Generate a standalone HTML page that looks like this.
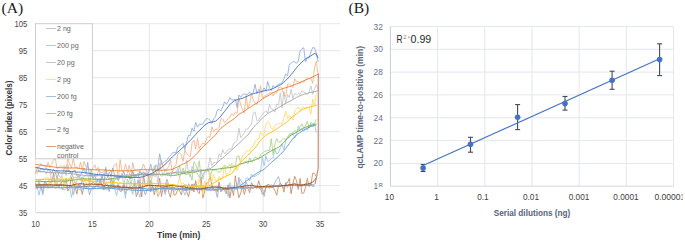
<!DOCTYPE html>
<html><head><meta charset="utf-8"><style>
html,body{margin:0;padding:0;background:#fff;width:685px;height:242px;overflow:hidden}
svg{display:block}
text{font-family:"Liberation Sans",sans-serif}
.lg{font-size:7.9px;fill:#666}
.tk{font-size:8.8px;fill:#474747}
.ttl{font-size:8.6px;font-weight:bold;fill:#3a3a3a}
.ttl2{font-size:8.8px;font-weight:bold;fill:#333}
.rtl2{font-size:8.5px;font-weight:bold;fill:#5a6680}
.rt{font-size:8.8px;fill:#66708a}
.rx{font-size:9px;fill:#404040}
.rtl{font-size:8.2px;font-weight:bold;fill:#56627c}
.r2{font-size:10.6px;fill:#262626}
.sup{font-size:6px;fill:#888}
.pl{font-family:"Liberation Serif",serif;font-size:15.6px;fill:#1a1a1a}
</style></head><body>
<svg width="685" height="242" viewBox="0 0 685 242">
<rect width="685" height="242" fill="#fff"/>
<line x1="35.5" y1="23.7" x2="340" y2="23.7" stroke="#e6e6e6" stroke-width="1"/>
<line x1="35.5" y1="50.7" x2="340" y2="50.7" stroke="#e6e6e6" stroke-width="1"/>
<line x1="35.5" y1="77.7" x2="340" y2="77.7" stroke="#e6e6e6" stroke-width="1"/>
<line x1="35.5" y1="104.7" x2="340" y2="104.7" stroke="#e6e6e6" stroke-width="1"/>
<line x1="35.5" y1="131.7" x2="340" y2="131.7" stroke="#e6e6e6" stroke-width="1"/>
<line x1="35.5" y1="158.7" x2="340" y2="158.7" stroke="#e6e6e6" stroke-width="1"/>
<line x1="35.5" y1="185.7" x2="340" y2="185.7" stroke="#e6e6e6" stroke-width="1"/>
<line x1="35.5" y1="212.7" x2="340" y2="212.7" stroke="#e6e6e6" stroke-width="1"/>
<line x1="35.5" y1="23.7" x2="35.5" y2="212.7" stroke="#e6e6e6" stroke-width="1"/>
<line x1="92.4" y1="23.7" x2="92.4" y2="212.7" stroke="#e6e6e6" stroke-width="1"/>
<line x1="149.3" y1="23.7" x2="149.3" y2="212.7" stroke="#e6e6e6" stroke-width="1"/>
<line x1="206.2" y1="23.7" x2="206.2" y2="212.7" stroke="#e6e6e6" stroke-width="1"/>
<line x1="263.1" y1="23.7" x2="263.1" y2="212.7" stroke="#e6e6e6" stroke-width="1"/>
<line x1="320" y1="23.7" x2="320" y2="212.7" stroke="#e6e6e6" stroke-width="1"/>
<line x1="35.5" y1="212.7" x2="340" y2="212.7" stroke="#d9d9d9" stroke-width="1"/>
<path d="M35.5 187.1 L37.3 185.3 L39.1 182.4 L40.9 189.5 L42.7 184.9 L44.5 186.8 L46.3 183.4 L48.1 188.4 L49.9 186.4 L51.7 186.4 L53.5 186.6 L55.3 188.2 L57.1 184.1 L58.9 188 L60.7 184.4 L62.5 185.4 L64.3 185.2 L66.1 185.5 L67.9 187.9 L69.7 186.4 L71.5 186.1 L73.3 194.7 L75.1 188.2 L76.9 186.9 L78.7 187 L80.5 185.2 L82.3 179.1 L84.1 186.6 L85.9 188.3 L87.7 185.1 L89.5 194.9 L91.3 188.1 L93.1 187.5 L94.9 187.3 L96.7 185.4 L98.5 186.2 L100.3 179.2 L102.1 189 L103.9 185.9 L105.7 189.2 L107.5 186.7 L109.3 191.6 L111.1 178.2 L112.9 185.1 L114.7 186 L116.5 187.2 L118.3 189.3 L120.1 187.3 L121.9 189.7 L123.7 186 L125.5 194.2 L127.3 187.1 L129.1 188.6 L130.9 188.2 L132.7 186.3 L134.5 185.1 L136.3 188 L138.1 179.8 L139.9 188.9 L141.7 188.9 L143.5 189.1 L145.3 194.8 L147.1 190.2 L148.9 188.2 L150.7 180.1 L152.5 186.7 L154.3 189.2 L156.1 187.5 L157.9 196.5 L159.7 193.3 L161.5 187.8 L163.3 188.2 L165.1 186.5 L166.9 179.3 L168.7 184.9 L170.5 189.1 L172.3 187.3 L174.1 187.8 L175.9 189.1 L177.7 189.5 L179.5 189.5 L181.3 187 L183.1 187.9 L184.9 191 L186.7 188.8 L188.5 183.7 L190.3 186.8 L192.1 190.9 L193.9 183.6 L195.7 186.3 L197.5 186.5 L199.3 187.9 L201.1 190.4 L202.9 188.3 L204.7 187.5 L206.5 188.9 L208.3 189.6 L210.1 189.5 L211.9 186.7 L213.7 190.3 L215.5 189.8 L217.3 197.4 L219.1 185.8 L220.9 190.9 L222.7 189.9 L224.5 188.6 L226.3 190.7 L228.1 188.5 L229.9 187.2 L231.7 187.2 L233.5 186.9 L235.3 189.4 L237.1 188.9 L238.9 177.3 L240.7 188.4 L242.5 186.1 L244.3 189.6 L246.1 182.3 L247.9 186.1 L249.7 189.1 L251.5 188.1 L253.3 188.7 L255.1 186.8 L256.9 187.7 L258.7 187.9 L260.5 189.3 L262.3 188 L264.1 196.4 L265.9 187.3 L267.7 186.4 L269.5 188.6 L271.3 184.6 L273.1 186.4 L274.9 182.6 L276.7 179.3 L278.5 176.5 L280.3 183.6 L282.1 186.5 L283.9 188.5 L285.7 182.8 L287.5 187.4 L289.3 184 L291.1 185.4 L292.9 185.6 L294.7 183.9 L296.5 185.7 L298.3 186.3 L300.1 183.8 L301.9 186.7 L303.7 184.5 L305.5 184 L307.3 183.8 L309.1 184.9 L310.9 183.8 L312.7 186.5 L314.5 186.5" fill="none" stroke="#9aa9cc" stroke-width="0.85" stroke-linejoin="miter"/>
<path d="M35.5 183.2 L37.3 188.9 L39.1 184.6 L40.9 184.2 L42.7 193.6 L44.5 181.4 L46.3 183.8 L48.1 184.5 L49.9 182.7 L51.7 182.6 L53.5 173.3 L55.3 185.1 L57.1 183.5 L58.9 185.2 L60.7 183.8 L62.5 180.7 L64.3 182.9 L66.1 178.4 L67.9 191.1 L69.7 187 L71.5 176.9 L73.3 184 L75.1 186.7 L76.9 194.1 L78.7 184.1 L80.5 186.2 L82.3 194.4 L84.1 184.9 L85.9 186.1 L87.7 187.8 L89.5 186 L91.3 183.5 L93.1 182.5 L94.9 183.8 L96.7 184 L98.5 183.7 L100.3 184.3 L102.1 183.6 L103.9 190.1 L105.7 183.2 L107.5 184 L109.3 188.4 L111.1 186.1 L112.9 186.4 L114.7 187.6 L116.5 187.9 L118.3 184.3 L120.1 191.4 L121.9 191 L123.7 183.1 L125.5 189.4 L127.3 190.2 L129.1 186.6 L130.9 188.3 L132.7 188.2 L134.5 183.3 L136.3 196.7 L138.1 191.2 L139.9 180.4 L141.7 196.8 L143.5 174.9 L145.3 186 L147.1 186.6 L148.9 175 L150.7 191.9 L152.5 184.8 L154.3 195 L156.1 185.8 L157.9 187.3 L159.7 178.2 L161.5 196.6 L163.3 186.5 L165.1 192.6 L166.9 183.3 L168.7 192.2 L170.5 197.4 L172.3 184.5 L174.1 195.2 L175.9 194.5 L177.7 189.4 L179.5 190.3 L181.3 194.9 L183.1 186.2 L184.9 184.5 L186.7 191.5 L188.5 196.8 L190.3 188.3 L192.1 184 L193.9 192 L195.7 180.6 L197.5 191.7 L199.3 193.6 L201.1 177.1 L202.9 197.9 L204.7 191.2 L206.5 183 L208.3 182.5 L210.1 176.1 L211.9 185 L213.7 189.9 L215.5 189.4 L217.3 191.7 L219.1 181.8 L220.9 191.8 L222.7 188.5 L224.5 189.9 L226.3 193.7 L228.1 184.7 L229.9 198 L231.7 188 L233.5 195.6 L235.3 175.9 L237.1 187.9 L238.9 197.8 L240.7 193.2 L242.5 186.5 L244.3 194.3 L246.1 187.9 L247.9 188.3 L249.7 192.8 L251.5 182.7 L253.3 185.7 L255.1 187.4 L256.9 188.3 L258.7 180.7 L260.5 187.3 L262.3 194.3 L264.1 192.4 L265.9 187.5 L267.7 184.4 L269.5 184.8 L271.3 187.5 L273.1 187.3 L274.9 190.5 L276.7 195.4 L278.5 185.4 L280.3 183.3 L282.1 185 L283.9 192.2 L285.7 182.9 L287.5 182.9 L289.3 178.4 L291.1 193.8 L292.9 183.8 L294.7 176.3 L296.5 180.7 L298.3 189.4 L300.1 178.4 L301.9 193.4 L303.7 193.1 L305.5 187.5 L307.3 178.4 L309.1 186.6 L310.9 185 L312.7 173.2 L314.5 173.3 L316.3 176.6" fill="none" stroke="#c88a62" stroke-width="0.85" stroke-linejoin="miter"/>
<path d="M35.5 188.4 L37.3 187.7 L39.1 195.1 L40.9 185.2 L42.7 194.9 L44.5 186.2 L46.3 187.3 L48.1 186.6 L49.9 187.4 L51.7 187.2 L53.5 186.7 L55.3 187.8 L57.1 187.2 L58.9 186.3 L60.7 188 L62.5 189.2 L64.3 189.7 L66.1 188.9 L67.9 187.7 L69.7 187.1 L71.5 197.4 L73.3 187.9 L75.1 188.9 L76.9 188.3 L78.7 189.2 L80.5 189.8 L82.3 189.6 L84.1 188.4 L85.9 188.6 L87.7 188.6 L89.5 189.4 L91.3 189.9 L93.1 189.8 L94.9 187.8 L96.7 183.9 L98.5 188.2 L100.3 187.9 L102.1 186.6 L103.9 188.2 L105.7 189.3 L107.5 189.9 L109.3 187.4 L111.1 188.1 L112.9 179.9 L114.7 188.4 L116.5 195.6 L118.3 188.2 L120.1 187.5 L121.9 188.2 L123.7 188.1 L125.5 198.4 L127.3 179.1 L129.1 182.6 L130.9 188 L132.7 194.5 L134.5 178.5 L136.3 188.7 L138.1 191 L139.9 197.4 L141.7 187.7 L143.5 187.3 L145.3 188.6 L147.1 189 L148.9 191 L150.7 190.1 L152.5 191.1 L154.3 190 L156.1 190.4 L157.9 189.1 L159.7 188.3 L161.5 186.8 L163.3 188.3 L165.1 194.5 L166.9 188.5 L168.7 188.9 L170.5 189.1 L172.3 190.3 L174.1 191.2 L175.9 190.1 L177.7 188.3 L179.5 189.4 L181.3 188.5 L183.1 190.3 L184.9 195.1 L186.7 190.7 L188.5 190.1 L190.3 188.9 L192.1 188 L193.9 188.5 L195.7 188.7 L197.5 188.1 L199.3 188.6 L201.1 187.2 L202.9 188.2 L204.7 187.9 L206.5 190.1 L208.3 189.7 L210.1 190.2 L211.9 189.8 L213.7 190.2 L215.5 188.6 L217.3 189.2 L219.1 188.7 L220.9 190.1 L222.7 189.8 L224.5 188.5 L226.3 188.5 L228.1 196.6 L229.9 182.5 L231.7 189.6 L233.5 188.3 L235.3 186.3 L237.1 186.3 L238.9 182.8 L240.7 179.4 L242.5 183.5 L244.3 187.6 L246.1 178.2 L247.9 177.9 L249.7 181 L251.5 174.2 L253.3 176.7 L255.1 176.3 L256.9 175 L258.7 174.6 L260.5 171.9 L262.3 157.2 L264.1 165.8 L265.9 155.7 L267.7 161.5 L269.5 160.5 L271.3 158.5 L273.1 157.7 L274.9 149.4 L276.7 154 L278.5 152.6 L280.3 147.9 L282.1 144.1 L283.9 149.7 L285.7 141 L287.5 137.1 L289.3 137.5 L291.1 133.8 L292.9 133.5 L294.7 138.2 L296.5 133.8 L298.3 125.9 L300.1 130.4 L301.9 128.7 L303.7 131.3 L305.5 129 L307.3 130.3 L309.1 126 L310.9 123.8 L312.7 126.9 L314.5 124 L316.3 132.6" fill="none" stroke="#9dc3e6" stroke-width="0.85" stroke-linejoin="miter"/>
<path d="M35.5 182.5 L37.3 186.7 L39.1 180.1 L40.9 181.1 L42.7 181.3 L44.5 181.7 L46.3 181.8 L48.1 181.3 L49.9 179.6 L51.7 179.6 L53.5 179.6 L55.3 180.3 L57.1 182.3 L58.9 181.4 L60.7 181.8 L62.5 189.9 L64.3 182.6 L66.1 182.5 L67.9 181 L69.7 179.5 L71.5 173.8 L73.3 177.6 L75.1 177.2 L76.9 177.3 L78.7 177.6 L80.5 177.1 L82.3 177.6 L84.1 179.3 L85.9 179.7 L87.7 180.8 L89.5 181.4 L91.3 169.4 L93.1 179.1 L94.9 178.8 L96.7 178.9 L98.5 179.2 L100.3 178.6 L102.1 178.6 L103.9 180.3 L105.7 177.2 L107.5 179.8 L109.3 178.5 L111.1 182.2 L112.9 187.4 L114.7 179.9 L116.5 179.1 L118.3 176.9 L120.1 177.3 L121.9 177.8 L123.7 175.9 L125.5 176.9 L127.3 175.5 L129.1 176.8 L130.9 184.5 L132.7 177.2 L134.5 175.4 L136.3 176 L138.1 173.5 L139.9 172.8 L141.7 173.1 L143.5 174.8 L145.3 175.6 L147.1 173.2 L148.9 180.7 L150.7 175.6 L152.5 175.1 L154.3 176 L156.1 176.1 L157.9 167.5 L159.7 175 L161.5 176.1 L163.3 175.3 L165.1 174.4 L166.9 174.5 L168.7 174.3 L170.5 172.6 L172.3 173.6 L174.1 172.5 L175.9 173.4 L177.7 173.7 L179.5 165.5 L181.3 173.5 L183.1 168.1 L184.9 174.1 L186.7 174.5 L188.5 173.6 L190.3 174.6 L192.1 180 L193.9 161.6 L195.7 164.4 L197.5 170.4 L199.3 160.8 L201.1 179.3 L202.9 174.6 L204.7 171.5 L206.5 169.1 L208.3 169.3 L210.1 178.3 L211.9 170.7 L213.7 170.3 L215.5 169.9 L217.3 171.7 L219.1 172.3 L220.9 171.1 L222.7 166.9 L224.5 164.8 L226.3 167.2 L228.1 166.7 L229.9 164.4 L231.7 167 L233.5 166.2 L235.3 165.5 L237.1 156.4 L238.9 155.7 L240.7 163.9 L242.5 163.2 L244.3 161.6 L246.1 161.2 L247.9 163.9 L249.7 158 L251.5 162.2 L253.3 160 L255.1 156.8 L256.9 157.7 L258.7 159.3 L260.5 154.7 L262.3 153.2 L264.1 151.6 L265.9 151.2 L267.7 150.1 L269.5 150.9 L271.3 138.7 L273.1 154.6 L274.9 144.3 L276.7 138.5 L278.5 142.3 L280.3 142.2 L282.1 139.7 L283.9 138.5 L285.7 139.7 L287.5 137.5 L289.3 134.1 L291.1 133.5 L292.9 133.1 L294.7 130.7 L296.5 131.4 L298.3 130.1 L300.1 126.7 L301.9 123.8 L303.7 128.2 L305.5 125.6 L307.3 121.3 L309.1 128.2 L310.9 122.3 L312.7 123.6 L314.5 123.3 L316.3 119.3" fill="none" stroke="#a9d18e" stroke-width="0.85" stroke-linejoin="miter"/>
<path d="M35.5 181.2 L37.3 180.3 L39.1 179.8 L40.9 179.9 L42.7 179 L44.5 178.4 L46.3 177.9 L48.1 177.6 L49.9 188.1 L51.7 179.3 L53.5 179.8 L55.3 188 L57.1 178.2 L58.9 179.1 L60.7 179.7 L62.5 175.8 L64.3 188.1 L66.1 179 L67.9 179.3 L69.7 179.2 L71.5 180.4 L73.3 185.8 L75.1 187.9 L76.9 180.9 L78.7 179.2 L80.5 180.6 L82.3 181.3 L84.1 181.7 L85.9 181.8 L87.7 187.9 L89.5 181.4 L91.3 181.3 L93.1 180.9 L94.9 182.4 L96.7 182.4 L98.5 181.7 L100.3 182.5 L102.1 190.2 L103.9 183.5 L105.7 183.4 L107.5 183.1 L109.3 182.7 L111.1 183.7 L112.9 182.1 L114.7 182.7 L116.5 182.4 L118.3 183.9 L120.1 182.8 L121.9 183.5 L123.7 183.9 L125.5 183.5 L127.3 184 L129.1 183.2 L130.9 185.2 L132.7 184.3 L134.5 189.5 L136.3 185 L138.1 184.2 L139.9 183.6 L141.7 183.8 L143.5 185 L145.3 185.4 L147.1 185.8 L148.9 180 L150.7 174.1 L152.5 185.2 L154.3 186.7 L156.1 184.6 L157.9 194.1 L159.7 183.8 L161.5 185.2 L163.3 185.9 L165.1 185.2 L166.9 185.2 L168.7 185 L170.5 186.7 L172.3 186.8 L174.1 186.9 L175.9 185.8 L177.7 184.4 L179.5 177.1 L181.3 184.3 L183.1 183.2 L184.9 184.8 L186.7 184.9 L188.5 186.1 L190.3 186.2 L192.1 186.6 L193.9 186.3 L195.7 185.7 L197.5 186.5 L199.3 178.7 L201.1 186.5 L202.9 194.5 L204.7 181.3 L206.5 186 L208.3 184.9 L210.1 172.3 L211.9 181.8 L213.7 174.6 L215.5 180.6 L217.3 181.5 L219.1 176.5 L220.9 180.3 L222.7 177.1 L224.5 165.1 L226.3 175.5 L228.1 173.6 L229.9 172.2 L231.7 163 L233.5 166 L235.3 166.2 L237.1 170.4 L238.9 164.4 L240.7 162.2 L242.5 156 L244.3 154.1 L246.1 151.1 L247.9 150.4 L249.7 151.1 L251.5 146.7 L253.3 146.1 L255.1 141.6 L256.9 139.3 L258.7 139 L260.5 132 L262.3 135.1 L264.1 134.7 L265.9 124 L267.7 121.8 L269.5 123.4 L271.3 128.7 L273.1 129.4 L274.9 125.3 L276.7 124.3 L278.5 123.5 L280.3 123.4 L282.1 123.7 L283.9 118.1 L285.7 111.2 L287.5 118.8 L289.3 115.7 L291.1 117 L292.9 120.2 L294.7 110.9 L296.5 109.1 L298.3 107 L300.1 109.6 L301.9 108.4 L303.7 106.9 L305.5 109 L307.3 107.6 L309.1 107.3 L310.9 114.3 L312.7 99 L314.5 105 L316.3 93.8" fill="none" stroke="#ffd966" stroke-width="0.85" stroke-linejoin="miter"/>
<path d="M35.5 172.8 L37.3 173.3 L39.1 171.3 L40.9 172.1 L42.7 171.5 L44.5 170.8 L46.3 174 L48.1 169 L49.9 171.6 L51.7 182.3 L53.5 177.6 L55.3 173.6 L57.1 170.5 L58.9 175.3 L60.7 177.9 L62.5 174.2 L64.3 166.9 L66.1 175.6 L67.9 164.4 L69.7 173.5 L71.5 171.6 L73.3 177.7 L75.1 183.7 L76.9 178.4 L78.7 174.1 L80.5 180.3 L82.3 176.9 L84.1 176.9 L85.9 175 L87.7 173.9 L89.5 184.5 L91.3 174.9 L93.1 177.8 L94.9 174.5 L96.7 176.6 L98.5 170.1 L100.3 176.2 L102.1 178.5 L103.9 172.7 L105.7 174 L107.5 173.2 L109.3 179.2 L111.1 174.3 L112.9 184.5 L114.7 175.3 L116.5 175.2 L118.3 177.3 L120.1 177.7 L121.9 173.4 L123.7 184.5 L125.5 177.5 L127.3 173.6 L129.1 165.3 L130.9 172.2 L132.7 170.3 L134.5 176.2 L136.3 176.9 L138.1 173.2 L139.9 183.6 L141.7 172.4 L143.5 174.3 L145.3 172.7 L147.1 173.5 L148.9 177.8 L150.7 183 L152.5 175.3 L154.3 165.7 L156.1 169.8 L157.9 182.5 L159.7 163.5 L161.5 171 L163.3 174.9 L165.1 169.2 L166.9 172.8 L168.7 172.6 L170.5 177.1 L172.3 171.7 L174.1 173.2 L175.9 171.9 L177.7 168.7 L179.5 177.8 L181.3 173.3 L183.1 172.2 L184.9 174.2 L186.7 160.3 L188.5 173.3 L190.3 177.1 L192.1 166.4 L193.9 172.2 L195.7 172.7 L197.5 173.5 L199.3 177.7 L201.1 169.6 L202.9 179.2 L204.7 171.7 L206.5 172.3 L208.3 167 L210.1 157.6 L211.9 165.6 L213.7 162.5 L215.5 162.4 L217.3 162.4 L219.1 153.7 L220.9 156.9 L222.7 149.5 L224.5 153.9 L226.3 152.5 L228.1 149.6 L229.9 148.8 L231.7 149 L233.5 143.7 L235.3 142.3 L237.1 140.6 L238.9 128.2 L240.7 137.7 L242.5 135.5 L244.3 132.7 L246.1 129.1 L247.9 129 L249.7 126 L251.5 124.2 L253.3 113 L255.1 111.9 L256.9 120.7 L258.7 120.3 L260.5 116.9 L262.3 115 L264.1 112.4 L265.9 110.6 L267.7 113 L269.5 104.5 L271.3 108.8 L273.1 109.3 L274.9 112.2 L276.7 103.8 L278.5 105.2 L280.3 92.8 L282.1 107.9 L283.9 91.2 L285.7 103.4 L287.5 94.7 L289.3 97.5 L291.1 89.5 L292.9 98.8 L294.7 93.3 L296.5 95 L298.3 93.2 L300.1 94.7 L301.9 90.6 L303.7 92.3 L305.5 93 L307.3 94.7 L309.1 92.7 L310.9 85.8 L312.7 94.2 L314.5 88.9 L316.3 84.5 L318.1 89.2" fill="none" stroke="#c4c4c4" stroke-width="0.85" stroke-linejoin="miter"/>
<path d="M35.5 173.9 L37.3 167.9 L39.1 167.6 L40.9 163.5 L42.7 165.2 L44.5 166.5 L46.3 167.4 L48.1 162.4 L49.9 167.5 L51.7 164.4 L53.5 159.5 L55.3 158.9 L57.1 168.5 L58.9 167.6 L60.7 165.6 L62.5 167 L64.3 165.5 L66.1 168.5 L67.9 158.1 L69.7 164.8 L71.5 167.7 L73.3 158.3 L75.1 167.5 L76.9 166.8 L78.7 169.1 L80.5 162.3 L82.3 170 L84.1 161.4 L85.9 166.4 L87.7 167.2 L89.5 169.7 L91.3 170.5 L93.1 167.5 L94.9 165 L96.7 170.1 L98.5 167.4 L100.3 172.8 L102.1 172.4 L103.9 171.4 L105.7 170.3 L107.5 171.5 L109.3 169.5 L111.1 172.6 L112.9 167.9 L114.7 164.7 L116.5 163.4 L118.3 179.9 L120.1 159.6 L121.9 171 L123.7 171.7 L125.5 164.1 L127.3 171.3 L129.1 172 L130.9 178.7 L132.7 162.6 L134.5 169.8 L136.3 170.3 L138.1 171.3 L139.9 170.6 L141.7 169.2 L143.5 164 L145.3 168.9 L147.1 172.4 L148.9 170.4 L150.7 168.6 L152.5 170.4 L154.3 175 L156.1 168.9 L157.9 169.3 L159.7 170.7 L161.5 160.2 L163.3 168.3 L165.1 169.7 L166.9 169.1 L168.7 166.5 L170.5 160.2 L172.3 172.3 L174.1 167.1 L175.9 165.5 L177.7 154.2 L179.5 152.5 L181.3 154.8 L183.1 161.3 L184.9 149.7 L186.7 153.5 L188.5 155.3 L190.3 156.5 L192.1 142.5 L193.9 139.9 L195.7 149.2 L197.5 138.5 L199.3 149 L201.1 145.2 L202.9 143 L204.7 144.3 L206.5 138.9 L208.3 136.7 L210.1 137.3 L211.9 126.8 L213.7 131.6 L215.5 129.4 L217.3 129.3 L219.1 127.4 L220.9 118.6 L222.7 118.8 L224.5 122.6 L226.3 121.3 L228.1 118.4 L229.9 117.1 L231.7 113.6 L233.5 115.4 L235.3 112.2 L237.1 113.4 L238.9 98.3 L240.7 104.8 L242.5 109.9 L244.3 113.2 L246.1 95.5 L247.9 108.2 L249.7 103.9 L251.5 93.5 L253.3 100.5 L255.1 103.3 L256.9 104.2 L258.7 99.1 L260.5 85.6 L262.3 97.9 L264.1 96.5 L265.9 95 L267.7 94.4 L269.5 92.9 L271.3 92.7 L273.1 95.8 L274.9 92.7 L276.7 93.2 L278.5 87.7 L280.3 87.2 L282.1 88.4 L283.9 95.8 L285.7 96.3 L287.5 84.4 L289.3 83.8 L291.1 85.4 L292.9 87.6 L294.7 78.6 L296.5 81.8 L298.3 81.4 L300.1 84 L301.9 81 L303.7 82.5 L305.5 79.5 L307.3 77.9 L309.1 78.6 L310.9 78.2 L312.7 83.3 L314.5 68 L316.3 61.2 L318.1 74" fill="none" stroke="#f4b183" stroke-width="0.85" stroke-linejoin="miter"/>
<path d="M35.5 167.9 L37.3 166.9 L39.1 172 L40.9 168.6 L42.7 169.5 L44.5 169.5 L46.3 168.7 L48.1 169.9 L49.9 170.2 L51.7 173.6 L53.5 169.3 L55.3 171.7 L57.1 178.8 L58.9 171.7 L60.7 173.9 L62.5 172.4 L64.3 173.3 L66.1 170.4 L67.9 170.4 L69.7 170.7 L71.5 174.2 L73.3 170.7 L75.1 170.3 L76.9 175.8 L78.7 176.3 L80.5 175.6 L82.3 171.3 L84.1 168.4 L85.9 174 L87.7 162.4 L89.5 175.9 L91.3 173.6 L93.1 178.1 L94.9 175.5 L96.7 182.3 L98.5 178.7 L100.3 183.8 L102.1 175.1 L103.9 184 L105.7 167.3 L107.5 177.5 L109.3 172.4 L111.1 175.9 L112.9 168 L114.7 176.4 L116.5 176.7 L118.3 180.6 L120.1 176.7 L121.9 176.5 L123.7 171.5 L125.5 176.8 L127.3 176.4 L129.1 176.3 L130.9 178.9 L132.7 171.2 L134.5 177.7 L136.3 177.4 L138.1 177.6 L139.9 171 L141.7 174.6 L143.5 171.7 L145.3 174.5 L147.1 175.4 L148.9 171.6 L150.7 164.2 L152.5 170.5 L154.3 169.8 L156.1 164.7 L157.9 167.6 L159.7 153.7 L161.5 164.6 L163.3 163.1 L165.1 161.1 L166.9 160.3 L168.7 157.4 L170.5 155.4 L172.3 153 L174.1 152.1 L175.9 153 L177.7 147.3 L179.5 146.7 L181.3 144.7 L183.1 143.4 L184.9 149.4 L186.7 141.8 L188.5 135.4 L190.3 135.4 L192.1 127.8 L193.9 131.4 L195.7 122.3 L197.5 127.2 L199.3 124.1 L201.1 124.5 L202.9 123.8 L204.7 120.9 L206.5 118.7 L208.3 118.6 L210.1 120.4 L211.9 123.4 L213.7 118.9 L215.5 116.7 L217.3 110.1 L219.1 109.3 L220.9 111.2 L222.7 106.9 L224.5 101.8 L226.3 104.2 L228.1 101.8 L229.9 97.6 L231.7 99.9 L233.5 99.9 L235.3 99.2 L237.1 107.5 L238.9 95 L240.7 97.3 L242.5 94.6 L244.3 94 L246.1 94.3 L247.9 94.5 L249.7 92.1 L251.5 93.8 L253.3 92.6 L255.1 84.3 L256.9 93.5 L258.7 89.3 L260.5 91.4 L262.3 91.7 L264.1 87.8 L265.9 91.4 L267.7 81.4 L269.5 88.2 L271.3 90.5 L273.1 85.5 L274.9 87.8 L276.7 85.9 L278.5 84 L280.3 83.8 L282.1 82.8 L283.9 78.9 L285.7 74.1 L287.5 75.9 L289.3 64.5 L291.1 63.5 L292.9 61.6 L294.7 62 L296.5 63.3 L298.3 61 L300.1 50.7 L301.9 49 L303.7 47.6 L305.5 61.8 L307.3 58.1 L309.1 58 L310.9 52 L312.7 47.6 L314.5 47.8 L316.3 53 L318.1 62" fill="none" stroke="#8faadc" stroke-width="0.85" stroke-linejoin="miter"/>
<path d="M35.5 186.1 L37.3 186 L39.1 185.9 L40.9 185.7 L42.7 185.8 L44.5 185.9 L46.3 185.8 L48.1 185.8 L49.9 185.7 L51.7 185.7 L53.5 185.6 L55.3 185.4 L57.1 185.3 L58.9 185.4 L60.7 185.4 L62.5 185.5 L64.3 185.5 L66.1 185.7 L67.9 185.6 L69.7 185.8 L71.5 185.8 L73.3 185.9 L75.1 186 L76.9 186.2 L78.7 186.4 L80.5 186.5 L82.3 186.5 L84.1 186.5 L85.9 186.5 L87.7 186.4 L89.5 186.3 L91.3 186.3 L93.1 186.4 L94.9 186.5 L96.7 186.6 L98.5 186.8 L100.3 186.9 L102.1 186.9 L103.9 187 L105.7 187.3 L107.5 187.6 L109.3 187.7 L111.1 187.7 L112.9 187.6 L114.7 187.7 L116.5 187.6 L118.3 187.6 L120.1 187.5 L121.9 187.5 L123.7 187.4 L125.5 187.4 L127.3 187.5 L129.1 187.7 L130.9 187.8 L132.7 187.9 L134.5 187.9 L136.3 188 L138.1 188 L139.9 188.1 L141.7 188.2 L143.5 188.4 L145.3 188.7 L147.1 189 L148.9 189.1 L150.7 189 L152.5 188.9 L154.3 188.9 L156.1 188.8 L157.9 188.6 L159.7 188.4 L161.5 188.2 L163.3 188 L165.1 188 L166.9 188 L168.7 187.9 L170.5 187.8 L172.3 187.9 L174.1 188 L175.9 188.1 L177.7 188.2 L179.5 188.3 L181.3 188.4 L183.1 188.5 L184.9 188.5 L186.7 188.4 L188.5 188.5 L190.3 188.5 L192.1 188.5 L193.9 188.4 L195.7 188.6 L197.5 188.6 L199.3 188.7 L201.1 188.7 L202.9 188.5 L204.7 188.4 L206.5 188.4 L208.3 188.2 L210.1 188.1 L211.9 188 L213.7 187.8 L215.5 187.6 L217.3 187.5 L219.1 187.4 L220.9 187.5 L222.7 187.6 L224.5 187.5 L226.3 187.6 L228.1 187.7 L229.9 187.7 L231.7 187.8 L233.5 187.8 L235.3 188 L237.1 188 L238.9 188 L240.7 188 L242.5 188 L244.3 187.9 L246.1 187.8 L247.9 187.6 L249.7 187.5 L251.5 187.3 L253.3 187.3 L255.1 187.4 L256.9 187.4 L258.7 187.4 L260.5 187.4 L262.3 187.3 L264.1 187.3 L265.9 187.2 L267.7 187.2 L269.5 187.1 L271.3 187 L273.1 186.7 L274.9 186.6 L276.7 186.4 L278.5 186.3 L280.3 186.2 L282.1 185.9 L283.9 185.7 L285.7 185.7 L287.5 185.6 L289.3 185.4 L291.1 185.4 L292.9 185.5 L294.7 185.5 L296.5 185.6 L298.3 185.7 L300.1 185.6 L301.9 185.5 L303.7 185.6 L305.5 185.6 L307.3 185.5 L309.1 185.4 L310.9 185.1 L312.7 184.9 L314.5 184.7" fill="none" stroke="#7f8fb5" stroke-width="0.95" stroke-linejoin="round"/>
<path d="M35.5 185.1 L37.3 184.9 L39.1 184.9 L40.9 184.8 L42.7 184.7 L44.5 184.7 L46.3 184.8 L48.1 184.9 L49.9 184.7 L51.7 184.7 L53.5 184.8 L55.3 185 L57.1 185 L58.9 185.1 L60.7 184.9 L62.5 184.8 L64.3 185.1 L66.1 185.3 L67.9 185.3 L69.7 185.6 L71.5 185.4 L73.3 184.8 L75.1 184.4 L76.9 184 L78.7 183.9 L80.5 183.7 L82.3 183.9 L84.1 184.1 L85.9 184.3 L87.7 184.3 L89.5 184.2 L91.3 184 L93.1 184.4 L94.9 184.3 L96.7 184.3 L98.5 184.6 L100.3 184.6 L102.1 184.9 L103.9 185.4 L105.7 185.4 L107.5 185.6 L109.3 185.8 L111.1 185.8 L112.9 186.1 L114.7 186.2 L116.5 186.2 L118.3 186.3 L120.1 186.8 L121.9 187.2 L123.7 187.3 L125.5 187.2 L127.3 187.4 L129.1 187.7 L130.9 187.9 L132.7 188.1 L134.5 188 L136.3 188 L138.1 187.9 L139.9 187.5 L141.7 187.1 L143.5 186.8 L145.3 186 L147.1 185.5 L148.9 185.2 L150.7 185.4 L152.5 185.5 L154.3 185.6 L156.1 185.7 L157.9 185.7 L159.7 186 L161.5 185.9 L163.3 185.9 L165.1 186.2 L166.9 186.2 L168.7 185.8 L170.5 185.6 L172.3 185.3 L174.1 185.4 L175.9 186 L177.7 186.4 L179.5 186.4 L181.3 186.5 L183.1 186.8 L184.9 187 L186.7 187.5 L188.5 187.8 L190.3 187.9 L192.1 188.1 L193.9 188.5 L195.7 188.9 L197.5 189.2 L199.3 189.1 L201.1 189 L202.9 188.4 L204.7 188.1 L206.5 187.8 L208.3 187.5 L210.1 187.2 L211.9 186.9 L213.7 186.9 L215.5 186.9 L217.3 187 L219.1 187.1 L220.9 187.5 L222.7 188.3 L224.5 188.6 L226.3 188.6 L228.1 188.5 L229.9 188.2 L231.7 188.1 L233.5 187.7 L235.3 187.6 L237.1 187.2 L238.9 186.9 L240.7 186.7 L242.5 186.4 L244.3 186 L246.1 185.9 L247.9 185.7 L249.7 185.4 L251.5 185.6 L253.3 185.7 L255.1 186.1 L256.9 186.3 L258.7 186.6 L260.5 186.5 L262.3 186.5 L264.1 186.5 L265.9 186.2 L267.7 186.2 L269.5 186.4 L271.3 186.3 L273.1 186 L274.9 185.9 L276.7 185.9 L278.5 186.1 L280.3 185.8 L282.1 185.6 L283.9 185.6 L285.7 185.4 L287.5 185.1 L289.3 184.8 L291.1 184.7 L292.9 184.2 L294.7 183.9 L296.5 184.3 L298.3 184.9 L300.1 185.1 L301.9 184.8 L303.7 184.7 L305.5 184.3 L307.3 184.2 L309.1 183.7 L310.9 183 L312.7 182 L314.5 180.3 L316.3 177.8" fill="none" stroke="#9e480e" stroke-width="0.95" stroke-linejoin="round"/>
<path d="M35.5 187.6 L37.3 187.6 L39.1 187.5 L40.9 187.5 L42.7 187.5 L44.5 187.5 L46.3 187.6 L48.1 187.6 L49.9 187.6 L51.7 187.6 L53.5 187.6 L55.3 187.7 L57.1 187.7 L58.9 187.8 L60.7 187.8 L62.5 187.8 L64.3 187.7 L66.1 187.5 L67.9 187.4 L69.7 187.3 L71.5 187.3 L73.3 187.3 L75.1 187.4 L76.9 187.4 L78.7 187.6 L80.5 187.8 L82.3 188 L84.1 188.2 L85.9 188.5 L87.7 188.6 L89.5 188.6 L91.3 188.5 L93.1 188.4 L94.9 188.5 L96.7 188.6 L98.5 188.5 L100.3 188.3 L102.1 188.2 L103.9 188 L105.7 187.9 L107.5 188 L109.3 188.1 L111.1 188.3 L112.9 188.4 L114.7 188.7 L116.5 188.9 L118.3 189 L120.1 189.1 L121.9 189.4 L123.7 189.3 L125.5 189.4 L127.3 189.5 L129.1 189.7 L130.9 190 L132.7 190.2 L134.5 190.4 L136.3 190.4 L138.1 190.4 L139.9 190.4 L141.7 190.3 L143.5 190.4 L145.3 190.5 L147.1 190.4 L148.9 190.2 L150.7 190.1 L152.5 189.8 L154.3 189.5 L156.1 189.2 L157.9 189 L159.7 188.5 L161.5 188.4 L163.3 188.4 L165.1 188.6 L166.9 188.7 L168.7 188.9 L170.5 189 L172.3 189.1 L174.1 189.1 L175.9 189.2 L177.7 189.2 L179.5 189.3 L181.3 189.6 L183.1 189.7 L184.9 189.8 L186.7 189.7 L188.5 189.6 L190.3 189.5 L192.1 189.2 L193.9 189.1 L195.7 189.1 L197.5 189.2 L199.3 189.1 L201.1 189.1 L202.9 189.2 L204.7 189.4 L206.5 189.8 L208.3 189.9 L210.1 190 L211.9 189.9 L213.7 189.7 L215.5 189.5 L217.3 189.3 L219.1 189.1 L220.9 189.1 L222.7 189.2 L224.5 189.3 L226.3 189.3 L228.1 189.2 L229.9 189.1 L231.7 188.9 L233.5 188.5 L235.3 188.1 L237.1 187.6 L238.9 186.6 L240.7 185.3 L242.5 184 L244.3 182.6 L246.1 181.3 L247.9 179.9 L249.7 178.6 L251.5 177.2 L253.3 175.7 L255.1 174.4 L256.9 173.2 L258.7 172.2 L260.5 171.2 L262.3 170.3 L264.1 169.3 L265.9 167.6 L267.7 165.8 L269.5 164.2 L271.3 162.5 L273.1 160.9 L274.9 159.4 L276.7 157.8 L278.5 156.1 L280.3 154.4 L282.1 152.8 L283.9 150.7 L285.7 148.4 L287.5 146 L289.3 143.6 L291.1 141.1 L292.9 138.9 L294.7 136.9 L296.5 134.9 L298.3 133.7 L300.1 132.5 L301.9 131.2 L303.7 130 L305.5 129.1 L307.3 128.2 L309.1 127.2 L310.9 126.5 L312.7 125.8 L314.5 125.3 L316.3 124.9" fill="none" stroke="#5b9bd5" stroke-width="0.95" stroke-linejoin="round"/>
<path d="M35.5 181.5 L37.3 181.4 L39.1 181.4 L40.9 181.5 L42.7 181.5 L44.5 181.5 L46.3 181.6 L48.1 181.5 L49.9 181.4 L51.7 181.4 L53.5 181.3 L55.3 181.3 L57.1 181.2 L58.9 181 L60.7 180.9 L62.5 181 L64.3 181.1 L66.1 181.1 L67.9 180.9 L69.7 180.6 L71.5 180.3 L73.3 180 L75.1 179.6 L76.9 179.4 L78.7 179.2 L80.5 179 L82.3 178.9 L84.1 178.8 L85.9 178.9 L87.7 178.9 L89.5 179 L91.3 179.1 L93.1 179.2 L94.9 179.4 L96.7 179.4 L98.5 179.5 L100.3 179.6 L102.1 179.6 L103.9 179.6 L105.7 179.4 L107.5 179.3 L109.3 179.2 L111.1 178.9 L112.9 178.6 L114.7 178.3 L116.5 177.9 L118.3 177.7 L120.1 177.3 L121.9 177.2 L123.7 177 L125.5 176.9 L127.3 176.6 L129.1 176.4 L130.9 176.1 L132.7 175.7 L134.5 175.4 L136.3 175.2 L138.1 174.9 L139.9 174.7 L141.7 174.4 L143.5 174.1 L145.3 173.9 L147.1 174.1 L148.9 174.2 L150.7 174.3 L152.5 174.2 L154.3 174.2 L156.1 174.3 L157.9 174.3 L159.7 174.5 L161.5 174.4 L163.3 174.5 L165.1 174.8 L166.9 175 L168.7 175.1 L170.5 175.2 L172.3 175.3 L174.1 175.4 L175.9 175.2 L177.7 174.8 L179.5 174.3 L181.3 173.8 L183.1 173.5 L184.9 173.3 L186.7 172.9 L188.5 172.6 L190.3 172.4 L192.1 172.2 L193.9 172.1 L195.7 171.7 L197.5 171.3 L199.3 171.1 L201.1 170.8 L202.9 170.6 L204.7 170.5 L206.5 170.3 L208.3 170.1 L210.1 169.7 L211.9 169.6 L213.7 169.5 L215.5 169.3 L217.3 169.2 L219.1 168.9 L220.9 168.6 L222.7 168.4 L224.5 168.2 L226.3 168 L228.1 167.8 L229.9 167.6 L231.7 167.4 L233.5 167 L235.3 166.6 L237.1 165.7 L238.9 164.9 L240.7 164.1 L242.5 163.5 L244.3 163 L246.1 162.3 L247.9 161.7 L249.7 161.4 L251.5 161.2 L253.3 160.7 L255.1 159.9 L256.9 159.1 L258.7 158.2 L260.5 157.4 L262.3 156.3 L264.1 155.1 L265.9 154.1 L267.7 153 L269.5 151.9 L271.3 150.8 L273.1 149.9 L274.9 149 L276.7 148.2 L278.5 147.4 L280.3 145.8 L282.1 144 L283.9 142.3 L285.7 140.3 L287.5 138.4 L289.3 136.4 L291.1 135.1 L292.9 134.1 L294.7 133.2 L296.5 132.3 L298.3 131.2 L300.1 130 L301.9 129 L303.7 128.1 L305.5 127.4 L307.3 126.7 L309.1 126 L310.9 125.5 L312.7 124.9 L314.5 124.4 L316.3 123.9" fill="none" stroke="#70ad47" stroke-width="0.95" stroke-linejoin="round"/>
<path d="M35.5 179.6 L37.3 179.6 L39.1 179.5 L40.9 179.5 L42.7 179.5 L44.5 179.5 L46.3 179.4 L48.1 179.3 L49.9 179.3 L51.7 179.3 L53.5 179.2 L55.3 179.3 L57.1 179.3 L58.9 179.2 L60.7 179.2 L62.5 179.3 L64.3 179.2 L66.1 179.1 L67.9 179.2 L69.7 179.2 L71.5 179.2 L73.3 179.2 L75.1 179.3 L76.9 179.4 L78.7 179.4 L80.5 179.6 L82.3 179.9 L84.1 180.2 L85.9 180.5 L87.7 180.7 L89.5 180.9 L91.3 181.1 L93.1 181.2 L94.9 181.3 L96.7 181.5 L98.5 181.6 L100.3 181.7 L102.1 181.8 L103.9 181.9 L105.7 182 L107.5 182.1 L109.3 182.1 L111.1 182.2 L112.9 182.5 L114.7 182.7 L116.5 182.9 L118.3 183.1 L120.1 183.1 L121.9 183.3 L123.7 183.3 L125.5 183.4 L127.3 183.4 L129.1 183.3 L130.9 183.3 L132.7 183.4 L134.5 183.5 L136.3 183.5 L138.1 183.6 L139.9 183.7 L141.7 183.6 L143.5 183.6 L145.3 183.7 L147.1 183.8 L148.9 183.8 L150.7 183.8 L152.5 183.6 L154.3 183.6 L156.1 183.6 L157.9 183.6 L159.7 183.7 L161.5 183.7 L163.3 183.8 L165.1 183.9 L166.9 184.1 L168.7 184.3 L170.5 184.5 L172.3 184.7 L174.1 184.9 L175.9 185.1 L177.7 185.4 L179.5 185.6 L181.3 185.7 L183.1 185.7 L184.9 185.8 L186.7 185.8 L188.5 185.8 L190.3 186 L192.1 186.2 L193.9 186.2 L195.7 186.2 L197.5 186.1 L199.3 186.2 L201.1 186.3 L202.9 186.2 L204.7 186.1 L206.5 186 L208.3 186 L210.1 185.3 L211.9 184.2 L213.7 183 L215.5 181.9 L217.3 180.8 L219.1 179.7 L220.9 178.7 L222.7 177.8 L224.5 177 L226.3 176.1 L228.1 175.3 L229.9 174.5 L231.7 173.5 L233.5 171.4 L235.3 169 L237.1 166.6 L238.9 164.6 L240.7 162.5 L242.5 160.6 L244.3 158.9 L246.1 157 L247.9 155.2 L249.7 153.4 L251.5 151.6 L253.3 149.6 L255.1 147.6 L256.9 145.3 L258.7 142.8 L260.5 140.3 L262.3 138.5 L264.1 136.8 L265.9 135.3 L267.7 134 L269.5 133.2 L271.3 132.3 L273.1 131.3 L274.9 130.2 L276.7 128.9 L278.5 127.6 L280.3 126.4 L282.1 125.3 L283.9 124 L285.7 122.8 L287.5 121.3 L289.3 119.6 L291.1 117.9 L292.9 116.5 L294.7 115 L296.5 113.7 L298.3 112.3 L300.1 111.1 L301.9 109.9 L303.7 109 L305.5 108.3 L307.3 107.6 L309.1 107.1 L310.9 106.7 L312.7 106.3 L314.5 105.8 L316.3 105.3" fill="none" stroke="#ffc000" stroke-width="0.95" stroke-linejoin="round"/>
<path d="M35.5 171 L37.3 171.1 L39.1 171.3 L40.9 171.5 L42.7 171.7 L44.5 172 L46.3 172.2 L48.1 172.3 L49.9 172.4 L51.7 172.6 L53.5 172.6 L55.3 172.6 L57.1 172.7 L58.9 172.8 L60.7 172.9 L62.5 173 L64.3 173.2 L66.1 173.3 L67.9 173.4 L69.7 173.6 L71.5 173.7 L73.3 173.9 L75.1 174.1 L76.9 174.4 L78.7 174.6 L80.5 174.9 L82.3 175.1 L84.1 175.4 L85.9 175.7 L87.7 175.7 L89.5 175.7 L91.3 175.7 L93.1 175.5 L94.9 175.4 L96.7 175.4 L98.5 175.3 L100.3 175.1 L102.1 175 L103.9 175.2 L105.7 175.4 L107.5 175.6 L109.3 175.7 L111.1 175.8 L112.9 175.9 L114.7 175.9 L116.5 175.8 L118.3 175.7 L120.1 175.6 L121.9 175.4 L123.7 175.2 L125.5 175.2 L127.3 175 L129.1 175.1 L130.9 175 L132.7 174.9 L134.5 174.8 L136.3 174.7 L138.1 174.7 L139.9 174.6 L141.7 174.6 L143.5 174.6 L145.3 174.5 L147.1 174.5 L148.9 174.7 L150.7 174.8 L152.5 174.8 L154.3 174.7 L156.1 174.5 L157.9 174.5 L159.7 174.5 L161.5 174.4 L163.3 174.2 L165.1 174 L166.9 173.7 L168.7 173.4 L170.5 173.1 L172.3 172.9 L174.1 172.7 L175.9 172.5 L177.7 172.3 L179.5 172.2 L181.3 172.1 L183.1 172 L184.9 171.9 L186.7 171.8 L188.5 171.4 L190.3 171 L192.1 170.6 L193.9 170.3 L195.7 170 L197.5 170.2 L199.3 170.2 L201.1 170.1 L202.9 170 L204.7 170 L206.5 169.7 L208.3 169.2 L210.1 168.7 L211.9 167.4 L213.7 166.1 L215.5 164.6 L217.3 162.6 L219.1 160.8 L220.9 159.5 L222.7 158 L224.5 156.6 L226.3 154.8 L228.1 153.2 L229.9 151.5 L231.7 150 L233.5 148.4 L235.3 146.8 L237.1 145.1 L238.9 143.4 L240.7 141.7 L242.5 140 L244.3 138.3 L246.1 136.7 L247.9 135.1 L249.7 132.6 L251.5 129.9 L253.3 127.4 L255.1 125.7 L256.9 123.8 L258.7 121.9 L260.5 120.1 L262.3 118.4 L264.1 116.6 L265.9 115.1 L267.7 113.7 L269.5 112.4 L271.3 111.5 L273.1 110.7 L274.9 109.8 L276.7 108.8 L278.5 107.7 L280.3 106.6 L282.1 105.4 L283.9 104.3 L285.7 103.3 L287.5 102.4 L289.3 101.5 L291.1 100.6 L292.9 99.6 L294.7 98.5 L296.5 97.4 L298.3 96.4 L300.1 95.8 L301.9 95 L303.7 94.4 L305.5 93.8 L307.3 93.4 L309.1 92.8 L310.9 92.4 L312.7 92.1 L314.5 91.7 L316.3 91.2 L318.1 90.7" fill="none" stroke="#a5a5a5" stroke-width="0.95" stroke-linejoin="round"/>
<path d="M35.5 164.5 L37.3 164.6 L39.1 164.9 L40.9 165.2 L42.7 165.4 L44.5 165.6 L46.3 165.8 L48.1 166.1 L49.9 166.4 L51.7 166.7 L53.5 166.9 L55.3 167.2 L57.1 167.5 L58.9 167.6 L60.7 167.6 L62.5 167.8 L64.3 167.8 L66.1 167.9 L67.9 167.9 L69.7 168 L71.5 168 L73.3 168 L75.1 167.9 L76.9 168.1 L78.7 168.3 L80.5 168.5 L82.3 168.7 L84.1 168.9 L85.9 169.1 L87.7 169.4 L89.5 169.5 L91.3 169.6 L93.1 169.7 L94.9 169.9 L96.7 169.9 L98.5 169.8 L100.3 169.9 L102.1 169.9 L103.9 169.9 L105.7 170.2 L107.5 170.3 L109.3 170.5 L111.1 170.6 L112.9 170.6 L114.7 170.6 L116.5 170.7 L118.3 170.8 L120.1 170.8 L121.9 170.8 L123.7 170.8 L125.5 170.7 L127.3 170.7 L129.1 170.8 L130.9 170.8 L132.7 170.5 L134.5 170.3 L136.3 170.1 L138.1 169.8 L139.9 169.6 L141.7 169.6 L143.5 169.7 L145.3 169.7 L147.1 169.8 L148.9 169.7 L150.7 169.7 L152.5 169.8 L154.3 170 L156.1 170.2 L157.9 170.2 L159.7 170.3 L161.5 170.3 L163.3 170.2 L165.1 170.2 L166.9 170.1 L168.7 169.9 L170.5 169.8 L172.3 169.3 L174.1 168.4 L175.9 167.7 L177.7 166.8 L179.5 165.8 L181.3 164.8 L183.1 164 L184.9 163.3 L186.7 162.3 L188.5 161.1 L190.3 159.8 L192.1 158.2 L193.9 156.6 L195.7 154.9 L197.5 152.9 L199.3 150.9 L201.1 148.8 L202.9 146.9 L204.7 145.1 L206.5 143.6 L208.3 142 L210.1 140.2 L211.9 138.4 L213.7 136.5 L215.5 134.9 L217.3 132.6 L219.1 130.3 L220.9 128.3 L222.7 126.9 L224.5 125.5 L226.3 124.1 L228.1 122.8 L229.9 121.6 L231.7 120.4 L233.5 119.2 L235.3 117.7 L237.1 115.9 L238.9 114.4 L240.7 113.3 L242.5 112.3 L244.3 111 L246.1 109.9 L247.9 108.7 L249.7 107.5 L251.5 106.4 L253.3 105.2 L255.1 104.1 L256.9 103 L258.7 101.9 L260.5 100.5 L262.3 99.1 L264.1 97.9 L265.9 96.8 L267.7 95.9 L269.5 94.9 L271.3 93.7 L273.1 92.7 L274.9 91.8 L276.7 90.9 L278.5 90.1 L280.3 89.5 L282.1 88.8 L283.9 88.3 L285.7 87.7 L287.5 87.1 L289.3 86.6 L291.1 86.1 L292.9 85.4 L294.7 84.6 L296.5 83.9 L298.3 83.2 L300.1 82.4 L301.9 81.6 L303.7 80.7 L305.5 80 L307.3 79.3 L309.1 78.7 L310.9 77.8 L312.7 77 L314.5 76 L316.3 75.1 L318.1 74.2" fill="none" stroke="#ed7d31" stroke-width="0.95" stroke-linejoin="round"/>
<path d="M35.5 167.6 L37.3 167.7 L39.1 168.1 L40.9 168.5 L42.7 168.8 L44.5 169.1 L46.3 169.2 L48.1 169.4 L49.9 169.6 L51.7 170 L53.5 170.4 L55.3 170.6 L57.1 170.8 L58.9 170.8 L60.7 170.9 L62.5 170.9 L64.3 171 L66.1 171.2 L67.9 171.4 L69.7 171.4 L71.5 171.5 L73.3 171.6 L75.1 171.9 L76.9 172.1 L78.7 172.1 L80.5 172.2 L82.3 172.5 L84.1 172.6 L85.9 172.8 L87.7 173.1 L89.5 173.3 L91.3 173.6 L93.1 174 L94.9 174.2 L96.7 174.5 L98.5 174.6 L100.3 174.7 L102.1 174.9 L103.9 175.1 L105.7 175.3 L107.5 175.3 L109.3 175.5 L111.1 175.5 L112.9 175.6 L114.7 175.8 L116.5 176 L118.3 176.2 L120.1 176.5 L121.9 176.8 L123.7 177.1 L125.5 177.2 L127.3 177.4 L129.1 177.6 L130.9 177.5 L132.7 177.4 L134.5 177.4 L136.3 177.3 L138.1 177.4 L139.9 177.4 L141.7 177.1 L143.5 176.6 L145.3 176 L147.1 175.3 L148.9 174.7 L150.7 174 L152.5 173 L154.3 171.9 L156.1 170.7 L157.9 169.7 L159.7 168.7 L161.5 167.4 L163.3 165.8 L165.1 164.4 L166.9 162.7 L168.7 160.8 L170.5 158.8 L172.3 156.9 L174.1 155.3 L175.9 153.7 L177.7 152.1 L179.5 150.5 L181.3 148.9 L183.1 147.4 L184.9 145.7 L186.7 143.9 L188.5 142.2 L190.3 140.4 L192.1 138.5 L193.9 136.5 L195.7 134.5 L197.5 132.4 L199.3 130.5 L201.1 128.8 L202.9 126.9 L204.7 125.2 L206.5 123.9 L208.3 122.8 L210.1 122.4 L211.9 122 L213.7 121.6 L215.5 121.2 L217.3 119.7 L219.1 118 L220.9 116 L222.7 113.7 L224.5 111.5 L226.3 109.2 L228.1 106.9 L229.9 104.5 L231.7 102.7 L233.5 101.4 L235.3 100.4 L237.1 99.7 L238.9 99.1 L240.7 98.8 L242.5 98.2 L244.3 97.4 L246.1 96.7 L247.9 95.9 L249.7 95.1 L251.5 94.3 L253.3 93.7 L255.1 93.2 L256.9 92.8 L258.7 92.3 L260.5 91.9 L262.3 91.4 L264.1 90.9 L265.9 90.4 L267.7 90.1 L269.5 89.8 L271.3 89.3 L273.1 88.5 L274.9 87.6 L276.7 86.7 L278.5 85.8 L280.3 84.8 L282.1 83.8 L283.9 82.1 L285.7 80.4 L287.5 78.8 L289.3 76.8 L291.1 74.6 L292.9 72.5 L294.7 70.2 L296.5 67.8 L298.3 65.7 L300.1 63.9 L301.9 62 L303.7 60.5 L305.5 58.9 L307.3 57.7 L309.1 56.8 L310.9 55.9 L312.7 54.6 L314.5 53.5 L316.3 54.2 L318.1 58.1" fill="none" stroke="#4472c4" stroke-width="0.95" stroke-linejoin="round"/>
<path d="M315 184 L316.8 176 L318.2 168 L318.3 73.5" fill="none" stroke="#c38560" stroke-width="1.1"/>
<rect x="35.5" y="23.7" width="56.9" height="135" fill="#ffffff" stroke="#d0d0d0" stroke-width="1"/>
<line x1="46" y1="28.5" x2="56" y2="28.5" stroke="#b8c9ea" stroke-width="1"/>
<text transform="translate(57 30.9) scale(0.9 1)" class="lg">2 ng</text>
<line x1="46" y1="45.5" x2="56" y2="45.5" stroke="#f6b890" stroke-width="1"/>
<text transform="translate(57 47.9) scale(0.9 1)" class="lg">200 pg</text>
<line x1="46" y1="62.5" x2="56" y2="62.5" stroke="#c8c8c8" stroke-width="1"/>
<text transform="translate(57 64.9) scale(0.9 1)" class="lg">20 pg</text>
<line x1="46" y1="79.5" x2="56" y2="79.5" stroke="#ffe08a" stroke-width="1"/>
<text transform="translate(57 81.9) scale(0.9 1)" class="lg">2 pg</text>
<line x1="46" y1="96.5" x2="56" y2="96.5" stroke="#9dc3e6" stroke-width="1"/>
<text transform="translate(57 98.9) scale(0.9 1)" class="lg">200 fg</text>
<line x1="46" y1="113.5" x2="56" y2="113.5" stroke="#a9d18e" stroke-width="1"/>
<text transform="translate(57 115.9) scale(0.9 1)" class="lg">20 fg</text>
<line x1="46" y1="129.5" x2="56" y2="129.5" stroke="#aab4d0" stroke-width="1"/>
<text transform="translate(57 131.9) scale(0.9 1)" class="lg">2 fg</text>
<line x1="46" y1="146.5" x2="56" y2="146.5" stroke="#dba47c" stroke-width="1"/>
<text transform="translate(57 148.9) scale(0.9 1)" class="lg">negative</text>
<text transform="translate(57 158.3) scale(0.9 1)" class="lg">control</text>
<text transform="translate(27.4 26.7) scale(0.88 1)" class="tk" text-anchor="end">105</text>
<text transform="translate(27.4 53.7) scale(0.88 1)" class="tk" text-anchor="end">95</text>
<text transform="translate(27.4 80.7) scale(0.88 1)" class="tk" text-anchor="end">85</text>
<text transform="translate(27.4 107.7) scale(0.88 1)" class="tk" text-anchor="end">75</text>
<text transform="translate(27.4 134.7) scale(0.88 1)" class="tk" text-anchor="end">65</text>
<text transform="translate(27.4 161.7) scale(0.88 1)" class="tk" text-anchor="end">55</text>
<text transform="translate(27.4 188.7) scale(0.88 1)" class="tk" text-anchor="end">45</text>
<text transform="translate(27.4 215.7) scale(0.88 1)" class="tk" text-anchor="end">35</text>
<text transform="translate(35.5 227.2) scale(0.88 1)" class="tk" text-anchor="middle">10</text>
<text transform="translate(92.4 227.2) scale(0.88 1)" class="tk" text-anchor="middle">15</text>
<text transform="translate(149.3 227.2) scale(0.88 1)" class="tk" text-anchor="middle">20</text>
<text transform="translate(206.2 227.2) scale(0.88 1)" class="tk" text-anchor="middle">25</text>
<text transform="translate(263.1 227.2) scale(0.88 1)" class="tk" text-anchor="middle">30</text>
<text transform="translate(320 227.2) scale(0.88 1)" class="tk" text-anchor="middle">35</text>
<text x="178.7" y="237.8" class="ttl" text-anchor="middle">Time (min)</text>
<text transform="translate(12.4 118.1) rotate(-90) scale(0.92 1)" class="ttl2" text-anchor="middle">Color index (pixels)</text>
<line x1="390.4" y1="26.5" x2="673.5" y2="26.5" stroke="#e3e6ee" stroke-width="1"/>
<line x1="390.4" y1="49.3" x2="673.5" y2="49.3" stroke="#e3e6ee" stroke-width="1"/>
<line x1="390.4" y1="72.1" x2="673.5" y2="72.1" stroke="#e3e6ee" stroke-width="1"/>
<line x1="390.4" y1="94.9" x2="673.5" y2="94.9" stroke="#e3e6ee" stroke-width="1"/>
<line x1="390.4" y1="117.8" x2="673.5" y2="117.8" stroke="#e3e6ee" stroke-width="1"/>
<line x1="390.4" y1="140.6" x2="673.5" y2="140.6" stroke="#e3e6ee" stroke-width="1"/>
<line x1="390.4" y1="163.4" x2="673.5" y2="163.4" stroke="#e3e6ee" stroke-width="1"/>
<line x1="390.4" y1="186.2" x2="673.5" y2="186.2" stroke="#e3e6ee" stroke-width="1"/>
<line x1="437.6" y1="26.5" x2="437.6" y2="186.2" stroke="#e3e6ee" stroke-width="1"/>
<line x1="484.8" y1="26.5" x2="484.8" y2="186.2" stroke="#e3e6ee" stroke-width="1"/>
<line x1="532" y1="26.5" x2="532" y2="186.2" stroke="#e3e6ee" stroke-width="1"/>
<line x1="579.1" y1="26.5" x2="579.1" y2="186.2" stroke="#e3e6ee" stroke-width="1"/>
<line x1="626.3" y1="26.5" x2="626.3" y2="186.2" stroke="#e3e6ee" stroke-width="1"/>
<line x1="673.5" y1="26.5" x2="673.5" y2="186.2" stroke="#e3e6ee" stroke-width="1"/>
<line x1="390.4" y1="26.5" x2="390.4" y2="186.2" stroke="#c5cbe0" stroke-width="1"/>
<line x1="390.4" y1="186.2" x2="673.5" y2="186.2" stroke="#dfe3ee" stroke-width="1"/>
<line x1="423.1" y1="164.5" x2="423.1" y2="171.5" stroke="#404a5c" stroke-width="1.1"/>
<line x1="420.6" y1="164.5" x2="425.6" y2="164.5" stroke="#404a5c" stroke-width="1.1"/>
<line x1="420.6" y1="171.5" x2="425.6" y2="171.5" stroke="#404a5c" stroke-width="1.1"/>
<line x1="470.5" y1="137.3" x2="470.5" y2="152.2" stroke="#404a5c" stroke-width="1.1"/>
<line x1="468" y1="137.3" x2="473" y2="137.3" stroke="#404a5c" stroke-width="1.1"/>
<line x1="468" y1="152.2" x2="473" y2="152.2" stroke="#404a5c" stroke-width="1.1"/>
<line x1="517.6" y1="104.6" x2="517.6" y2="129.6" stroke="#404a5c" stroke-width="1.1"/>
<line x1="515.1" y1="104.6" x2="520.1" y2="104.6" stroke="#404a5c" stroke-width="1.1"/>
<line x1="515.1" y1="129.6" x2="520.1" y2="129.6" stroke="#404a5c" stroke-width="1.1"/>
<line x1="565" y1="96.5" x2="565" y2="110.1" stroke="#404a5c" stroke-width="1.1"/>
<line x1="562.5" y1="96.5" x2="567.5" y2="96.5" stroke="#404a5c" stroke-width="1.1"/>
<line x1="562.5" y1="110.1" x2="567.5" y2="110.1" stroke="#404a5c" stroke-width="1.1"/>
<line x1="612.1" y1="71.2" x2="612.1" y2="89.3" stroke="#404a5c" stroke-width="1.1"/>
<line x1="609.6" y1="71.2" x2="614.6" y2="71.2" stroke="#404a5c" stroke-width="1.1"/>
<line x1="609.6" y1="89.3" x2="614.6" y2="89.3" stroke="#404a5c" stroke-width="1.1"/>
<line x1="659.6" y1="43.8" x2="659.6" y2="75.6" stroke="#404a5c" stroke-width="1.1"/>
<line x1="657.1" y1="43.8" x2="662.1" y2="43.8" stroke="#404a5c" stroke-width="1.1"/>
<line x1="657.1" y1="75.6" x2="662.1" y2="75.6" stroke="#404a5c" stroke-width="1.1"/>
<line x1="423.1" y1="165.6" x2="659.6" y2="58.7" stroke="#4472c4" stroke-width="1.15"/>
<circle cx="423.1" cy="168.1" r="2.8" fill="#4472c4"/>
<circle cx="470.5" cy="144.3" r="2.8" fill="#4472c4"/>
<circle cx="517.6" cy="117.2" r="2.8" fill="#4472c4"/>
<circle cx="565" cy="103.6" r="2.8" fill="#4472c4"/>
<circle cx="612.1" cy="80.3" r="2.8" fill="#4472c4"/>
<circle cx="659.6" cy="59.6" r="2.8" fill="#4472c4"/>
<text transform="translate(382.8 29.5) scale(0.95 1)" class="rt" text-anchor="end">32</text>
<text transform="translate(382.8 52.3) scale(0.95 1)" class="rt" text-anchor="end">30</text>
<text transform="translate(382.8 75.1) scale(0.95 1)" class="rt" text-anchor="end">28</text>
<text transform="translate(382.8 97.9) scale(0.95 1)" class="rt" text-anchor="end">26</text>
<text transform="translate(382.8 120.8) scale(0.95 1)" class="rt" text-anchor="end">24</text>
<text transform="translate(382.8 143.6) scale(0.95 1)" class="rt" text-anchor="end">22</text>
<text transform="translate(382.8 166.4) scale(0.95 1)" class="rt" text-anchor="end">20</text>
<text transform="translate(382.8 189.2) scale(0.95 1)" class="rt" text-anchor="end">18</text>
<rect x="378.2" y="186.9" width="5.5" height="4" fill="#fff"/>
<text transform="translate(389.4 200.1) scale(0.92 1)" class="rx" text-anchor="middle">10</text>
<text transform="translate(436.5 200.1) scale(0.92 1)" class="rx" text-anchor="middle">1</text>
<text transform="translate(482.9 200.1) scale(0.92 1)" class="rx" text-anchor="middle">0.1</text>
<text transform="translate(531 200.1) scale(0.92 1)" class="rx" text-anchor="middle">0.01</text>
<text transform="translate(579 200.1) scale(0.92 1)" class="rx" text-anchor="middle">0.001</text>
<text transform="translate(626 200.1) scale(0.92 1)" class="rx" text-anchor="middle">0.0001</text>
<text transform="translate(654.5 200.1) scale(0.95 1)" class="rx">0.00001</text>
<rect x="682.6" y="190" width="3" height="14" fill="#fff"/>
<text x="532" y="215.8" class="rtl" text-anchor="middle">Serial dilutions (ng)</text>
<text transform="translate(362.6 107.3) rotate(-90)" class="rtl2" text-anchor="middle">qcLAMP time-to-positive (min)</text>
<text transform="translate(396.6 43) scale(0.79 1)" class="r2">R</text>
<text transform="translate(403.2 38.5)" class="sup">2</text>
<rect x="408.1" y="36.6" width="1.7" height="1.2" fill="#9a9a9a"/>
<text transform="translate(410.6 43)" class="r2">0.99</text>
<text x="1.6" y="12.6" class="pl">(A)</text>
<text x="348.5" y="12.7" class="pl">(B)</text>
</svg>
</body></html>
